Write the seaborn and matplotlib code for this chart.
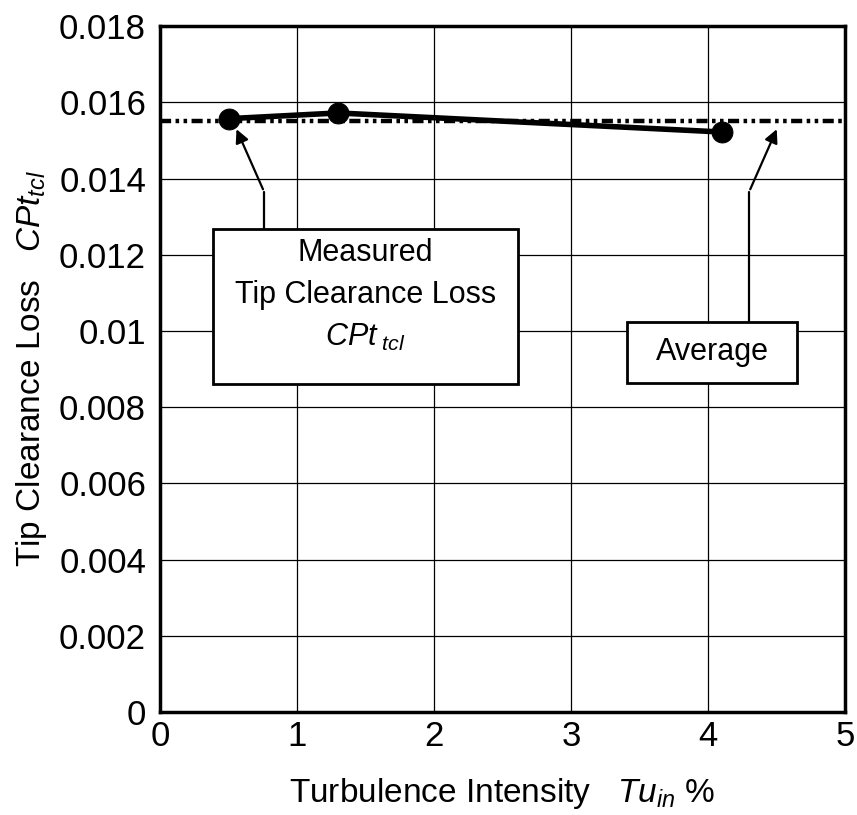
import matplotlib
matplotlib.use("Agg")
import matplotlib.pyplot as plt
from matplotlib.patches import Rectangle
import seaborn as sns
import pandas as pd

# Data
tu_in = [0.5, 1.3, 4.1]
cpt_tcl = [0.01557, 0.01572, 0.01522]
average = 0.01550
x_ticks = [0, 1, 2, 3, 4, 5]
y_ticks = [0, 0.002, 0.004, 0.006, 0.008, 0.01, 0.012, 0.014, 0.016, 0.018]
y_tick_labels = ["0", "0.002", "0.004", "0.006", "0.008", "0.01", "0.012", "0.014", "0.016", "0.018"]

sns.set_theme(style="white")
plt.rcParams['font.family'] = ['Liberation Sans', 'DejaVu Sans']
plt.rcParams['mathtext.fontset'] = 'custom'
plt.rcParams['mathtext.it'] = 'Liberation Sans:italic'
plt.rcParams['mathtext.rm'] = 'Liberation Sans'
for k in ['text.color', 'axes.labelcolor', 'xtick.color', 'ytick.color']:
    plt.rcParams[k] = 'black'

fig = plt.figure(figsize=(8.57, 8.15), dpi=100)
ax = fig.add_axes([0.1867, 0.1264, 0.7993, 0.8416])

df = pd.DataFrame({"Tu": tu_in, "CPt": cpt_tcl})

ax.set_xlim(0, 5)
ax.set_ylim(0, 0.018)
ax.set_xticks(x_ticks)
ax.set_yticks(y_ticks)
ax.set_yticklabels(y_tick_labels)
ax.grid(True, color='black', linewidth=0.9)
ax.set_axisbelow(True)

ax.axhline(average, color='black', linewidth=3.2, linestyle=(0, (2.5, 1, 0.8, 1, 0.8, 1)), zorder=3)

sns.lineplot(data=df, x="Tu", y="CPt", ax=ax, color='black', linewidth=4,
             marker='o', markersize=15, markeredgecolor='black', zorder=4)

for s in ax.spines.values():
    s.set_visible(True)
    s.set_color('black')
    s.set_linewidth(2.5)

ax.tick_params(axis='x', labelsize=25, colors='black', direction='in', length=0, pad=6)
ax.tick_params(axis='y', labelsize=25, colors='black', direction='in', length=0, pad=10)
ax.set_xlabel("Turbulence Intensity   $\\mathit{Tu_{in}}$ %", fontsize=24, labelpad=16)
ax.set_ylabel("Tip Clearance Loss   $\\mathit{CPt_{tcl}}$", fontsize=24, labelpad=7)

# Annotation connector lines and arrows
arrow_kw = dict(arrowstyle='-|>', color='black', lw=1.6, mutation_scale=20)
ax.plot([0.76, 0.76], [0.0127, 0.01365], color='black', lw=1.6, zorder=2)
ax.annotate("", xy=(0.55, 0.01536), xytext=(0.76, 0.01365), arrowprops=arrow_kw, zorder=5)
ax.plot([4.30, 4.30], [0.0102, 0.01365], color='black', lw=1.6, zorder=2)
ax.annotate("", xy=(4.51, 0.01536), xytext=(4.30, 0.01365), arrowprops=arrow_kw, zorder=5)

# Text boxes
ax.add_patch(Rectangle((0.387, 0.00861), 2.223, 0.00407, facecolor='white',
                       edgecolor='black', linewidth=2, zorder=6))
ax.text(1.5, 0.01205, "Measured", ha='center', va='center', fontsize=22, zorder=7)
ax.text(1.5, 0.01094, "Tip Clearance Loss", ha='center', va='center', fontsize=22, zorder=7)
ax.text(1.5, 0.00984, "$\\mathit{CPt_{\\ tcl}}$", ha='center', va='center', fontsize=22, zorder=7)

ax.add_patch(Rectangle((3.41, 0.00864), 1.24, 0.0016, facecolor='white',
                       edgecolor='black', linewidth=2, zorder=6))
ax.text(4.03, 0.00945, "Average", ha='center', va='center', fontsize=22, zorder=7)

fig.savefig("out.png", dpi=100)
